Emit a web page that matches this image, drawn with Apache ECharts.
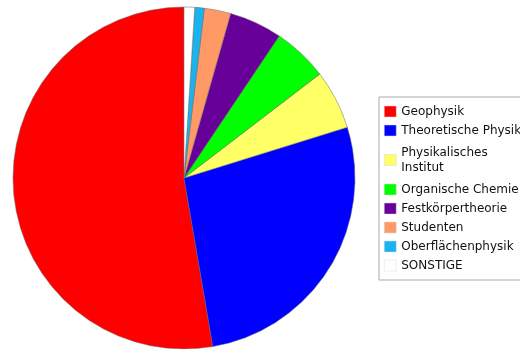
<!DOCTYPE html>
<html>
<head>
<meta charset="utf-8">
<script src="https://cdn.jsdelivr.net/npm/echarts@6/dist/echarts.min.js"></script>
<style>html,body{margin:0;padding:0;background:#fff}#c{width:520px;height:349px}</style>
</head>
<body>
<div id="c"></div>
<script>
const categories = ["Geophysik", "Theoretische Physik", "Physikalisches\nInstitut", "Organische Chemie", "Festkörpertheorie", "Studenten", "Oberflächenphysik", "SONSTIGE"];
const values = [52.7, 27.1, 5.6, 5.2, 5.0, 2.5, 0.9, 1.0];
const colors = ["#ff0000", "#0000ff", "#ffff66", "#00ff00", "#660099", "#ff9966", "#19b3f0", "#ffffff"];

const chart = echarts.init(document.getElementById('c'), null, {renderer: 'canvas'});
chart.setOption({
  animation: false,
  legend: {
    orient: 'vertical',
    left: 379,
    top: 97,
    padding: [7, 30, 7, 5],
    itemGap: 4,
    itemWidth: 12,
    itemHeight: 11,
    icon: 'rect',
    itemStyle: {borderColor: '#d8d8d8', borderWidth: 0.5},
    borderColor: '#aaaaaa',
    borderWidth: 1,
    backgroundColor: '#ffffff',
    textStyle: {fontFamily: 'DejaVu Sans', fontSize: 12, color: '#111', lineHeight: 15},
    data: categories.map(function (c) {
      return c.indexOf('\n') >= 0 ? {name: c, textStyle: {padding: [10, 0, -4, 0]}} : {name: c};
    })
  },
  series: [{
    type: 'pie',
    center: [184, 178],
    radius: 171,
    startAngle: 90,
    clockwise: false,
    label: {show: false},
    labelLine: {show: false},
    emphasis: {disabled: true},
    itemStyle: {borderColor: '#666666', borderWidth: 0.5},
    data: categories.map(function (c, i) {
      return {name: c, value: values[i], itemStyle: {color: colors[i]}};
    })
  }]
});
</script>
</body>
</html>
